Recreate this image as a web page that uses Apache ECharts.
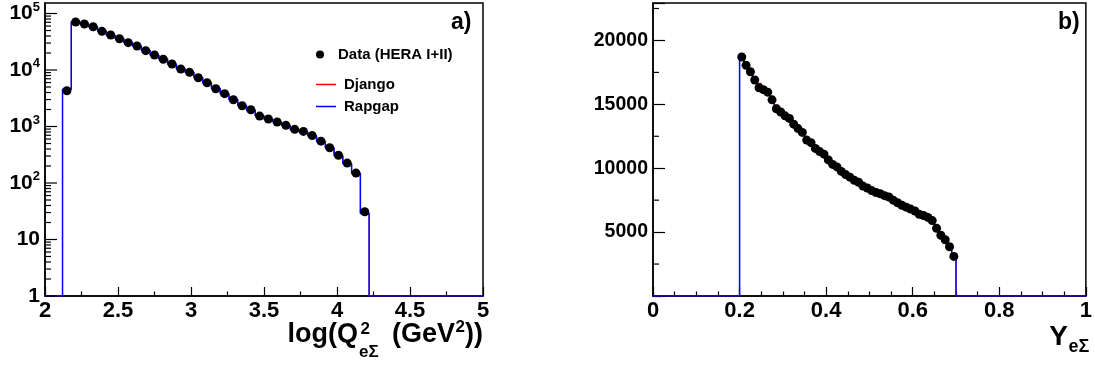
<!DOCTYPE html>
<html><head><meta charset="utf-8">
<script src="https://cdn.jsdelivr.net/npm/echarts@6/dist/echarts.min.js"></script>
<style>html,body{margin:0;padding:0;background:#fff}#c{width:1095px;height:367px}</style>
</head><body><div id="c"></div>
<script>
// ---------- Panel a) : log(Q^2) ----------
const q2BinWidth = 0.06;
const q2Centers = [2.15,2.21,2.27,2.33,2.39,2.45,2.51,2.57,2.63,2.69,2.75,2.81,2.87,2.93,2.99,3.05,3.11,3.17,3.23,3.29,3.35,3.41,3.47,3.53,3.59,3.65,3.71,3.77,3.83,3.89,3.95,4.01,4.07,4.13,4.19];
const q2Data    = [4300,70700,65200,58400,48400,41600,35800,30500,26600,22000,18400,15500,12800,10400,9100,7300,5960,4670,3810,2980,2330,1980,1530,1360,1200,1050,890,820,690,550,420,310,225,150,31];
const q2Django  = [4450,71000,65000,58000,48600,41500,35700,30600,26500,22100,18400,15500,12800,10400,9100,7350,5950,4680,3820,2990,2320,1970,1540,1360,1200,1050,890,810,685,550,420,308,222,150,30];
const q2Rapgap  = [4550,71500,64500,57500,48800,41200,36000,30800,26300,22200,18300,15600,12700,10500,9000,7400,5900,4700,3800,3000,2350,1950,1550,1350,1210,1040,880,800,680,545,415,305,220,148,29];
const q2LogMajorTicks = [1,10,100,1000,10000,100000];
const q2LogMinorTicks = [2,3,4,5,6,7,8,9,20,30,40,50,60,70,80,90,200,300,400,500,600,700,800,900,2000,3000,4000,5000,6000,7000,8000,9000,20000,30000,40000,50000,60000,70000,80000,90000];
const q2LogLabels = {1:'1',10:'10',100:'10|2',1000:'10|3',10000:'10|4',100000:'10|5'};

// ---------- Panel b) : Y ----------
const yBinWidth = 0.01;
const yCenters = [0.205,0.215,0.225,0.235,0.245,0.255,0.265,0.275,0.285,0.295,0.305,0.315,0.325,0.335,0.345,0.355,0.365,0.375,0.385,0.395,0.405,0.415,0.425,0.435,0.445,0.455,0.465,0.475,0.485,0.495,0.505,0.515,0.525,0.535,0.545,0.555,0.565,0.575,0.585,0.595,0.605,0.615,0.625,0.635,0.645,0.655,0.665,0.675,0.685,0.695];
const yData   = [18700,18050,17550,16900,16300,16150,15950,15350,14650,14400,14100,13900,13450,13100,12800,12200,12000,11550,11300,11100,10650,10300,10100,9750,9500,9300,9050,8900,8600,8450,8250,8100,8000,7850,7750,7500,7300,7100,6950,6800,6650,6400,6300,6150,5900,5300,4750,4400,3850,3100];
const yDjango = [18850,18300,17700,17150,16650,16350,16000,15550,14950,14550,14200,13950,13500,13150,12800,12250,12050,11550,11350,11100,10650,10300,10150,9800,9550,9300,9100,8880,8620,8480,8280,8080,8000,7880,7720,7500,7320,7100,6970,6800,6640,6430,6280,6120,5850,5300,4700,4350,3850,3100];
const yRapgap = [18900,18200,17650,17050,16550,16250,15950,15450,14850,14500,14150,13900,13450,13100,12750,12300,12000,11600,11300,11050,10700,10350,10100,9750,9500,9300,9050,8850,8600,8450,8250,8100,7980,7850,7700,7480,7300,7120,6950,6780,6620,6420,6250,6100,5800,5250,4650,4300,3800,3050];
const yMajorTickLabels = [5000,10000,15000,20000];
const yMinorTicks = [2500,7500,12500,17500,22500];

// ---------- helpers ----------
const FONT = '"Liberation Sans", Arial, sans-serif';
function histOutline(centers, vals, w, xmin, xmax, floor) {
  const pts = [[xmin, floor]];
  pts.push([centers[0] - w / 2, floor]);
  for (let i = 0; i < centers.length; i++) {
    pts.push([centers[i] - w / 2, vals[i]]);
    pts.push([centers[i] + w / 2, vals[i]]);
  }
  pts.push([centers[centers.length - 1] + w / 2, floor]);
  pts.push([xmax, floor]);
  return pts;
}
function pairs(xs, ys) { return xs.map((x, i) => [x, ys[i]]); }
function tickSeries(gi, xAt, majors, minors, majLen, minLen) {
  const d = majors.map(v => [xAt, v, majLen]).concat(minors.map(v => [xAt, v, minLen]));
  return {
    type: 'custom', xAxisIndex: gi, yAxisIndex: gi, silent: true, z: 5,
    data: d,
    renderItem: function (params, api) {
      const p = api.coord([api.value(0), api.value(1)]);
      return { type: 'line', shape: { x1: p[0], y1: p[1], x2: p[0] + api.value(2), y2: p[1] },
        style: { stroke: '#000', lineWidth: 1.2 } };
    }
  };
}
const axisLineStyle = { show: true, onZero: false, lineStyle: { color: '#000', width: 1.5 } };
const lblBase = { color: '#000', fontWeight: 'bold', fontFamily: FONT };
const legendText = { fontSize: 15, fontWeight: 'bold', color: '#000', fontFamily: FONT, padding: [0, 0, 0, 3] };

const chart = echarts.init(document.getElementById('c'), null, { renderer: 'canvas' });
chart.setOption({
  animation: false,
  backgroundColor: '#fff',
  textStyle: { fontFamily: FONT },
  title: [
    { text: 'a)', left: 446, top: 6, textStyle: { fontSize: 23, fontWeight: 'bold', color: '#000', fontFamily: FONT } },
    { text: 'b)', left: 1053, top: 6, textStyle: { fontSize: 23, fontWeight: 'bold', color: '#000', fontFamily: FONT } }
  ],
  legend: [
    { data: [{ name: 'Data (HERA I+II)', icon: 'circle', itemStyle: { color: '#000', opacity: 1 } }], left: 311, top: 42, itemWidth: 20, itemHeight: 8, textStyle: legendText },
    { data: [{ name: 'Django', icon: 'path://M0,0H20V1.5H0Z' }], left: 311, top: 72, itemWidth: 20, itemHeight: 8, textStyle: legendText },
    { data: [{ name: 'Rapgap', icon: 'path://M0,0H20V1.5H0Z' }], left: 311, top: 94, itemWidth: 20, itemHeight: 8, textStyle: legendText }
  ],
  grid: [
    { left: 45, top: 3, width: 438, height: 293, show: true, borderColor: '#000', borderWidth: 1.5, backgroundColor: 'transparent' },
    { left: 653, top: 3, width: 438, height: 293, show: true, borderColor: '#000', borderWidth: 1.5, backgroundColor: 'transparent' }
  ],
  xAxis: [
    { type: 'value', gridIndex: 0, min: 2, max: 5, interval: 0.5,
      axisLine: axisLineStyle,
      axisTick: { show: true, inside: true, length: 9, lineStyle: { color: '#000', width: 1.2 } },
      minorTick: { show: true, splitNumber: 2, length: 4.5, lineStyle: { color: '#000', width: 1.2 } },
      splitLine: { show: false },
      axisLabel: Object.assign({ fontSize: 22, margin: 4 }, lblBase) },
    { type: 'value', gridIndex: 1, min: 0, max: 1, interval: 0.2,
      axisLine: axisLineStyle,
      axisTick: { show: true, inside: true, length: 9, lineStyle: { color: '#000', width: 1.2 } },
      minorTick: { show: true, splitNumber: 4, length: 4.5, lineStyle: { color: '#000', width: 1.2 } },
      splitLine: { show: false },
      axisLabel: Object.assign({ fontSize: 22, margin: 4 }, lblBase) }
  ],
  yAxis: [
    { type: 'log', gridIndex: 0, logBase: 10, min: 1, max: 153500,
      axisLine: axisLineStyle,
      axisTick: { show: false },
      splitLine: { show: false },
      axisLabel: Object.assign({ margin: 5,
        formatter: function (v) {
          const key = Math.round(v);
          const s = q2LogLabels[key];
          if (!s || Math.abs(v - key) > 1e-6 * v) return '';
          const parts = s.split('|');
          return parts.length > 1 ? '{b|' + parts[0] + '}{s|' + parts[1] + '}' : '{b|' + parts[0] + '}';
        },
        rich: {
          b: { fontSize: 21, fontWeight: 'bold', fontFamily: FONT, color: '#000', lineHeight: 26 },
          s: { fontSize: 13, fontWeight: 'bold', fontFamily: FONT, color: '#000', lineHeight: 13, verticalAlign: 'top' }
        } }, lblBase) },
    { type: 'value', gridIndex: 1, min: 0, max: 22930, interval: 5000,
      axisLine: axisLineStyle,
      axisTick: { show: true, inside: true, length: 12, lineStyle: { color: '#000', width: 1.2 } },
      splitLine: { show: false },
      axisLabel: Object.assign({ fontSize: 19.5, margin: 5,
        formatter: function (v) { return yMajorTickLabels.indexOf(v) >= 0 ? String(v) : ''; } }, lblBase) }
  ],
  series: [
    tickSeries(0, 2, q2LogMajorTicks, q2LogMinorTicks, 12, 6),
    { name: 'Django', type: 'line', xAxisIndex: 0, yAxisIndex: 0, showSymbol: false, symbol: 'none', z: 3,
      color: '#ff0000', itemStyle: { color: '#ff0000' }, lineStyle: { color: '#ff0000', width: 1 },
      data: histOutline(q2Centers, q2Django, q2BinWidth, 2, 5, 1) },
    { name: 'Rapgap', type: 'line', xAxisIndex: 0, yAxisIndex: 0, showSymbol: false, symbol: 'none', z: 4,
      color: '#0000ff', itemStyle: { color: '#0000ff' }, lineStyle: { color: '#0000ff', width: 1.5 },
      data: histOutline(q2Centers, q2Rapgap, q2BinWidth, 2, 5, 1) },
    { name: 'Data (HERA I+II)', type: 'scatter', xAxisIndex: 0, yAxisIndex: 0, symbol: 'circle', symbolSize: 9, z: 6,
      itemStyle: { color: '#000', opacity: 1 }, data: pairs(q2Centers, q2Data) },

    tickSeries(1, 0, [], yMinorTicks, 12, 6),
    { name: 'Django', type: 'line', xAxisIndex: 1, yAxisIndex: 1, showSymbol: false, symbol: 'none', z: 3,
      color: '#ff0000', itemStyle: { color: '#ff0000' }, lineStyle: { color: '#ff0000', width: 1 },
      data: histOutline(yCenters, yDjango, yBinWidth, 0, 1, 0) },
    { name: 'Rapgap', type: 'line', xAxisIndex: 1, yAxisIndex: 1, showSymbol: false, symbol: 'none', z: 4,
      color: '#0000ff', itemStyle: { color: '#0000ff' }, lineStyle: { color: '#0000ff', width: 1.5 },
      data: histOutline(yCenters, yRapgap, yBinWidth, 0, 1, 0) },
    { name: 'Data (HERA I+II)', type: 'scatter', xAxisIndex: 1, yAxisIndex: 1, symbol: 'circle', symbolSize: 9, z: 6,
      itemStyle: { color: '#000', opacity: 1 }, data: pairs(yCenters, yData) }
  ],
  graphic: [
    { type: 'text', x: 358, y: 335, silent: true, style: { text: 'log(Q', fill: '#000', font: 'bold 27px ' + FONT, align: 'right', verticalAlign: 'middle' } },
    { type: 'text', x: 360.5, y: 329, silent: true, style: { text: '2', fill: '#000', font: 'bold 17px ' + FONT, align: 'left', verticalAlign: 'middle' } },
    { type: 'text', x: 359, y: 352.5, silent: true, style: { text: 'eΣ', fill: '#000', font: 'bold 17px ' + FONT, align: 'left', verticalAlign: 'middle' } },
    { type: 'text', x: 455, y: 335, silent: true, style: { text: '(GeV', fill: '#000', font: 'bold 27px ' + FONT, align: 'right', verticalAlign: 'middle' } },
    { type: 'text', x: 465, y: 327, silent: true, style: { text: '2', fill: '#000', font: 'bold 17px ' + FONT, align: 'right', verticalAlign: 'middle' } },
    { type: 'text', x: 483, y: 335, silent: true, style: { text: '))', fill: '#000', font: 'bold 27px ' + FONT, align: 'right', verticalAlign: 'middle' } },
    { type: 'text', x: 1068, y: 337, silent: true, style: { text: 'Y', fill: '#000', font: 'bold 28px ' + FONT, align: 'right', verticalAlign: 'middle' } },
    { type: 'text', x: 1068.5, y: 347.5, silent: true, style: { text: 'eΣ', fill: '#000', font: 'bold 18px ' + FONT, align: 'left', verticalAlign: 'middle' } }
  ]
});
</script></body></html>
